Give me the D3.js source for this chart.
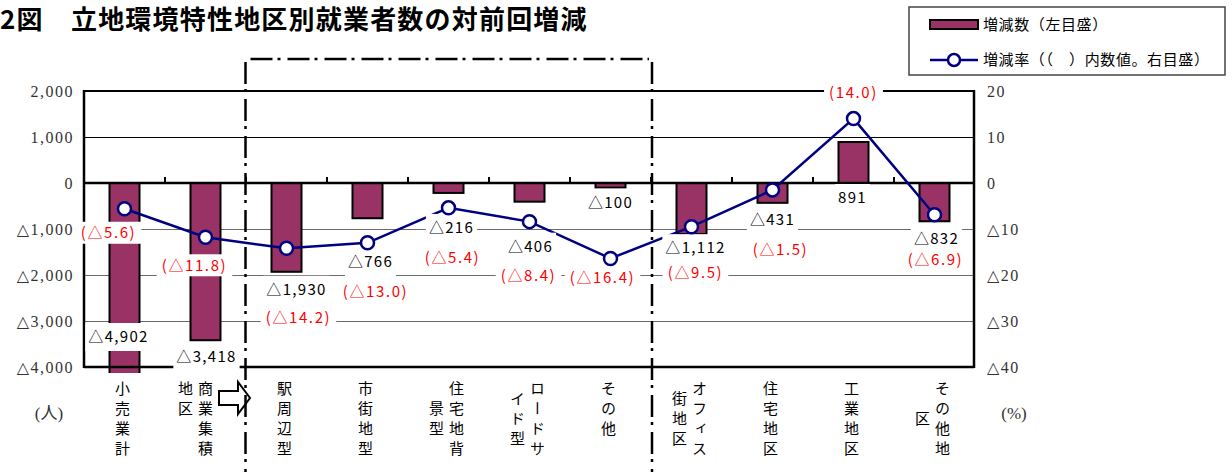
<!DOCTYPE html>
<html>
<head>
<meta charset="utf-8">
<script src="https://cdn.jsdelivr.net/npm/d3@7"></script>
<style>
  html, body { margin: 0; padding: 0; background: #fff; }
  svg { display: block; }
</style>
</head>
<body>
<svg id="chart" width="1232" height="472"></svg>
<script>
// ---- data ----
const categories = ["小売業計", "商業集積地区", "駅周辺型", "市街地型", "住宅地背景型", "ロードサイド型",
                    "その他", "オフィス街地区", "住宅地区", "工業地区", "その他地区"];
// category names broken into vertical columns (right column first)
const categoryColumns = [["小売業計"], ["商業集積", "地区"], ["駅周辺型"], ["市街地型"], ["住宅地背", "景型"],
                         ["ロードサ", "イド型"], ["その他"], ["オフィス", "街地区"], ["住宅地区"], ["工業地区"],
                         ["その他地", "区"]];
const changes = [-4902, -3418, -1930, -766, -216, -406, -100, -1112, -431, 891, -832];   // 人
const rates = [-5.6, -11.8, -14.2, -13.0, -5.4, -8.4, -16.4, -9.5, -1.5, 14.0, -6.9];    // %
const leftTicks = [2000, 1000, 0, -1000, -2000, -3000, -4000];
const rightTicks = [20, 10, 0, -10, -20, -30, -40];
const titleText = "2図　立地環境特性地区別就業者数の対前回増減";
const legendLabels = ["増減数（左目盛）", "増減率（（　）内数値。右目盛）"];
const unitLabels = ["(人)", "(%)"];

// ---- layout ----
const W = 1232, H = 472;
const plot = { left: 84, right: 975, top: 91, bottom: 367 };
const barClipBottom = 373;
// label placement relative to the end of each bar / each rate marker
const countLabelShift = [[-6, -36], [1, 17], [10, 18], [3, 44], [3, 35], [1, 45], [0, 15], [4, 14], [0, 17], [-1, 56], [2, 17]];
const rateLabelShift = [[-16, 24], [-11, 28], [12, 69], [8, 49], [4, 50], [-1, 54], [-8, 19], [4, 46], [8, 60], [0, -26], [1, 45]];
// horizontal nudge of the category names (the cluster label makes room for the arrow)
const categoryLabelNudge = [0, -8, 0, 0, 0, 0, 0, 0, 0, 0, 0];
const topAlignedLabels = new Set(["商業集積地区"]);

const BAR_FILL = "#993366", LINE_COLOR = "#000080";
const SANS = "'Noto Sans CJK JP', 'Noto Sans', sans-serif";
const SERIF = "'Liberation Serif', 'DejaVu Serif', 'Noto Sans CJK JP', serif";

const svg = d3.select("#chart");

const x = d3.scaleBand().domain(categories).range([plot.left, plot.right]).padding(0);
const yLeft = d3.scaleLinear().domain([-4000, 2000]).range([plot.bottom, plot.top]);
const yRight = d3.scaleLinear().domain([-40, 20]).range([plot.bottom, plot.top]);
const cx = c => x(c) + x.bandwidth() / 2;
const barWidth = 30;

const fmtCount = v => (v < 0 ? "△" : "") + d3.format(",")(Math.abs(v));
const fmtRate = v => "(" + (v < 0 ? "△" : "") + d3.format(".1f")(Math.abs(v)) + ")";
const fmtPct = v => (v < 0 ? "△" : "") + Math.abs(v);

// ---- title ----
svg.append("text")
  .attr("x", 0).attr("y", 29)
  .attr("font-family", SANS).attr("font-size", 26).attr("font-weight", "bold")
  .attr("letter-spacing", 1.2)
  .attr("fill", "#000")
  .text(titleText);

// ---- gridlines ----
const grid = svg.append("g").attr("shape-rendering", "crispEdges");
grid.selectAll("line")
  .data(leftTicks.filter(t => t !== 0 && t !== 2000 && t !== -4000))
  .join("line")
  .attr("x1", plot.left).attr("x2", plot.right)
  .attr("y1", d => yLeft(d) + 0.5).attr("y2", d => yLeft(d) + 0.5)
  .attr("stroke", d => d > 0 ? "#000" : "#6a6a6a")
  .attr("stroke-width", d => d > 0 ? 1 : 1.5);

// ---- bars ----
svg.append("clipPath").attr("id", "barClip")
  .append("rect").attr("x", plot.left).attr("y", plot.top - 5)
  .attr("width", plot.right - plot.left).attr("height", barClipBottom - plot.top + 5);

svg.append("g").attr("clip-path", "url(#barClip)")
  .selectAll("rect")
  .data(categories.map((c, i) => ({ c, v: changes[i] })))
  .join("rect")
  .attr("x", d => cx(d.c) - barWidth / 2)
  .attr("width", barWidth)
  .attr("y", d => Math.min(yLeft(0), yLeft(d.v)))
  .attr("height", d => Math.abs(yLeft(d.v) - yLeft(0)))
  .attr("fill", BAR_FILL)
  .attr("stroke", "#000")
  .attr("stroke-width", 2);

// ---- frame: top, bottom, zero line and the two value axes ----
const frame = svg.append("g").attr("stroke", "#000").attr("fill", "none");
[[2000, 2], [0, 2.5], [-4000, 2.5]].forEach(([v, w]) => {
  frame.append("line")
    .attr("x1", plot.left).attr("x2", plot.right - 1)
    .attr("y1", yLeft(v)).attr("y2", yLeft(v))
    .attr("stroke-width", w);
});
frame.append("line").attr("x1", plot.left).attr("x2", plot.left)
  .attr("y1", plot.top - 1).attr("y2", plot.bottom + 1).attr("stroke-width", 2.5);
frame.append("line").attr("x1", plot.right - 1).attr("x2", plot.right - 1)
  .attr("y1", plot.top - 1).attr("y2", plot.bottom + 1).attr("stroke-width", 2.5);
// category separators on the zero line
frame.selectAll("line.sep")
  .data(categories.slice(1))
  .join("line").attr("class", "sep")
  .attr("x1", d => x(d)).attr("x2", d => x(d))
  .attr("y1", yLeft(0)).attr("y2", yLeft(0) - 6)
  .attr("stroke-width", 2);

// ---- axis tick labels ----
const axisLeft = d3.axisLeft(yLeft).tickValues(leftTicks).tickFormat(fmtCount).tickSize(0).tickPadding(0);
const gL = svg.append("g").attr("transform", `translate(${plot.left - 10},0)`).call(axisLeft);
const axisRight = d3.axisRight(yRight).tickValues(rightTicks).tickFormat(fmtPct).tickSize(0).tickPadding(0);
const gR = svg.append("g").attr("transform", `translate(${plot.right + 12},0)`).call(axisRight);
[gL, gR].forEach(g => {
  g.attr("font-family", SERIF).attr("font-size", 16);
  g.select(".domain").remove();
  g.selectAll("text")
    .attr("font-family", SERIF).attr("font-size", 16)
    .attr("letter-spacing", 1.5)
    .attr("fill", "#333")
    .attr("dy", "0.35em");
});

// unit labels
svg.append("text").attr("x", 49).attr("y", 419).attr("text-anchor", "middle")
  .attr("font-family", SERIF).attr("font-size", 17).attr("fill", "#333").text(unitLabels[0]);
svg.append("text").attr("x", 1014).attr("y", 419).attr("text-anchor", "middle")
  .attr("font-family", SERIF).attr("font-size", 17).attr("fill", "#333").text(unitLabels[1]);

// ---- category labels (vertical writing) ----
const pitch = 20, labelTop = 381;
const catG = svg.append("g");
categories.forEach((c, i) => {
  const cols = categoryColumns[i];
  const maxLen = d3.max(cols, s => s.length);
  cols.forEach((s, k) => {
    const colX = cx(c) - 2 + categoryLabelNudge[i] + (cols.length === 1 ? 0 : (k === 0 ? 10 : -10));
    const off = topAlignedLabels.has(c) ? 0 : (maxLen - s.length) * pitch / 2;
    catG.append("text")
      .attr("x", colX).attr("y", labelTop + off)
      .style("writing-mode", "vertical-rl")
      .attr("font-family", SANS).attr("font-size", 15)
      .attr("letter-spacing", 5)
      .attr("fill", "#000")
      .text(s);
  });
});

// hollow arrow pointing into the bracket
const ax0 = 219, ay = 398;
svg.append("path")
  .attr("d", `M${ax0},${ay - 7} H${ax0 + 19} V${ay - 16} L${ax0 + 31},${ay} L${ax0 + 19},${ay + 16} V${ay + 7} H${ax0} Z`)
  .attr("fill", "#fff").attr("stroke", "#000").attr("stroke-width", 2).attr("stroke-linejoin", "miter");

// ---- dash-dot bracket around the commercial-cluster types ----
const bracket = svg.append("g").attr("stroke", "#000").attr("stroke-width", 2.5)
  .attr("stroke-dasharray", "22,5,3,7").attr("fill", "none");
const bxL = x(categories[2]) - 0.5, bxR = x(categories[7]) + 1, byTop = 59;
bracket.append("line").attr("x1", bxL).attr("x2", bxL).attr("y1", byTop + 3).attr("y2", H + 5);
bracket.append("line").attr("x1", bxR).attr("x2", bxR).attr("y1", byTop + 3).attr("y2", H + 5);
bracket.append("line").attr("x1", bxL + 5).attr("x2", bxR - 3).attr("y1", byTop).attr("y2", byTop);

// ---- rate line ----
const pts = categories.map((c, i) => [cx(c), yRight(rates[i])]);
svg.append("path")
  .attr("d", d3.line()(pts))
  .attr("fill", "none").attr("stroke", LINE_COLOR).attr("stroke-width", 2.5);

// ---- value labels with white backing ----
function boxedLabel(g, px, py, text, color, padX, boxH, spacing) {
  const t = g.append("text")
    .attr("x", px).attr("y", py).attr("dy", "0.35em")
    .attr("text-anchor", "middle")
    .attr("font-family", SANS).attr("font-size", 15)
    .attr("letter-spacing", spacing)
    .attr("fill", color)
    .text(text);
  const b = t.node().getBBox();
  g.insert("rect", () => t.node())
    .attr("x", b.x - padX).attr("width", b.width + padX * 2)
    .attr("y", py - boxH / 2).attr("height", boxH)
    .attr("fill", "#fff");
}
const labelG = svg.append("g");
categories.forEach((c, i) => {
  const v = changes[i];
  const endY = Math.min(yLeft(v), barClipBottom);
  const [dx, dy] = countLabelShift[i];
  boxedLabel(labelG, cx(c) + dx, endY + dy, fmtCount(v), "#000", 3, 28, 1.3);
});
categories.forEach((c, i) => {
  const [dx, dy] = rateLabelShift[i];
  boxedLabel(labelG, cx(c) + dx, yRight(rates[i]) + dy, fmtRate(rates[i]), "#ff0000", 5, 22, 1.6);
});

// markers on top
svg.append("g").selectAll("circle")
  .data(pts)
  .join("circle")
  .attr("cx", d => d[0]).attr("cy", d => d[1]).attr("r", 6.5)
  .attr("fill", "#fff").attr("stroke", LINE_COLOR).attr("stroke-width", 2.5);

// ---- legend ----
const lg = svg.append("g");
lg.append("rect").attr("x", 909).attr("y", 7).attr("width", 316).attr("height", 68)
  .attr("fill", "#fff").attr("stroke", "#444").attr("stroke-width", 1.5);
lg.append("rect").attr("x", 930).attr("y", 20).attr("width", 48).attr("height", 9)
  .attr("fill", BAR_FILL).attr("stroke", "#000").attr("stroke-width", 2);
lg.append("line").attr("x1", 930).attr("x2", 978).attr("y1", 60).attr("y2", 60)
  .attr("stroke", LINE_COLOR).attr("stroke-width", 2.5);
lg.append("circle").attr("cx", 954).attr("cy", 60).attr("r", 6)
  .attr("fill", "#fff").attr("stroke", LINE_COLOR).attr("stroke-width", 2.5);
lg.selectAll("text.item")
  .data(legendLabels)
  .join("text").attr("class", "item")
  .attr("x", 983).attr("y", (d, i) => i === 0 ? 25 : 60).attr("dy", "0.35em")
  .attr("font-family", SANS).attr("font-size", 15)
  .attr("letter-spacing", 0.6)
  .attr("fill", "#000")
  .text(d => d);
</script>
</body>
</html>
